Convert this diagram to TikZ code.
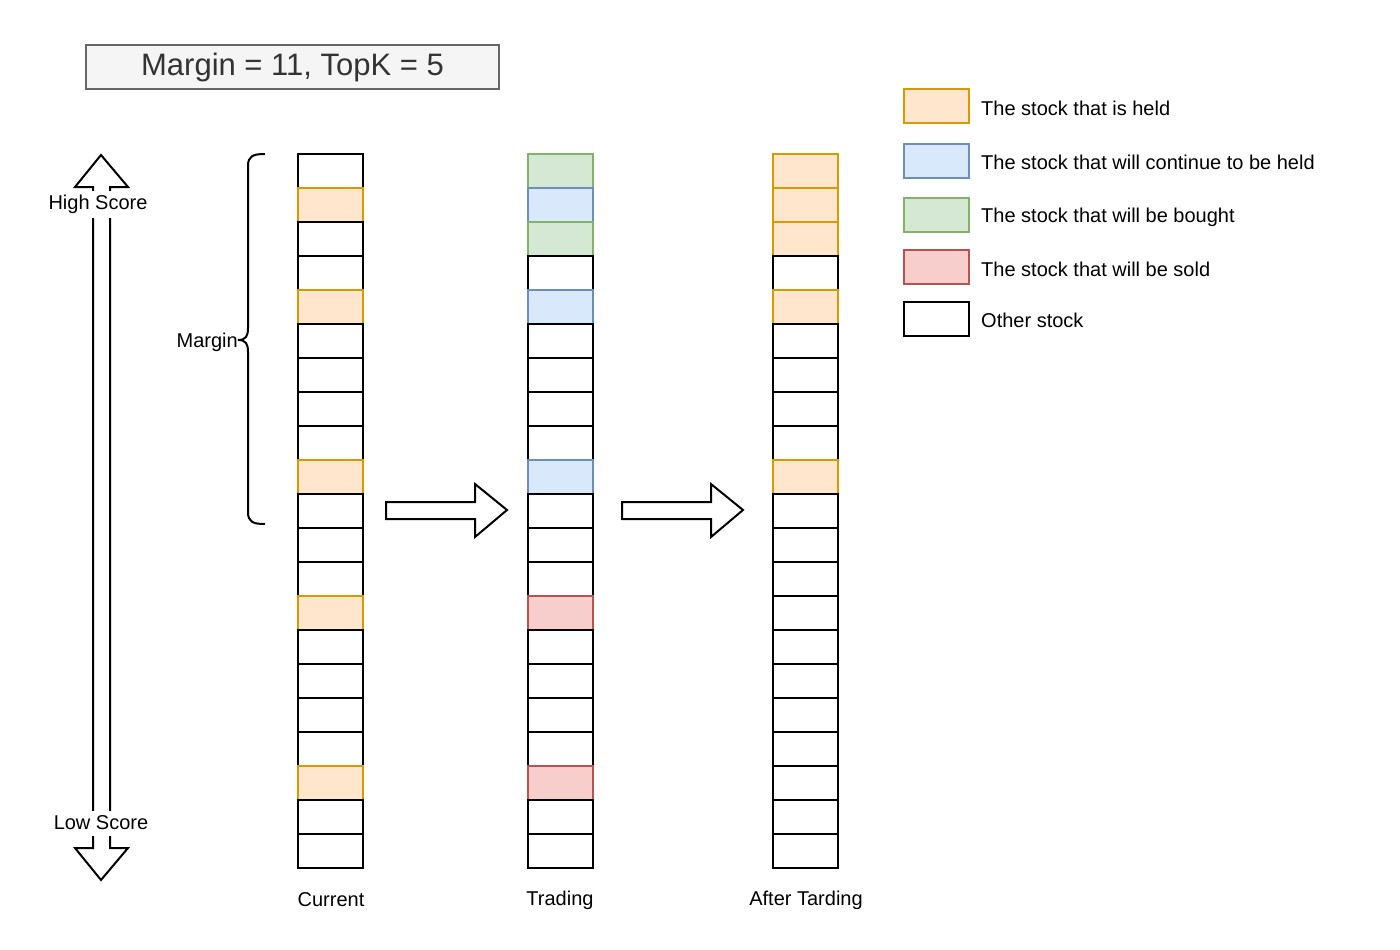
\documentclass[tikz,border=0pt]{standalone}
\usepackage{fontspec}
\setmainfont{Liberation Sans}
\definecolor{hfill}{HTML}{FFE6CC}\definecolor{hdraw}{HTML}{D79B00}
\definecolor{cfill}{HTML}{DAE8FC}\definecolor{cdraw}{HTML}{6C8EBF}
\definecolor{bfill}{HTML}{D5E8D4}\definecolor{bdraw}{HTML}{82B366}
\definecolor{sfill}{HTML}{F8CECC}\definecolor{sdraw}{HTML}{B85450}
\definecolor{tfill}{HTML}{F5F5F5}\definecolor{tdraw}{HTML}{666666}
\definecolor{ttext}{HTML}{333333}
\tikzset{
  cellbase/.style={rectangle, minimum width=65pt, minimum height=34pt, inner sep=0pt, line width=2pt},
  stw/.style={cellbase, draw=black, fill=white},
  sth/.style={cellbase, draw=hdraw, fill=hfill},
  stc/.style={cellbase, draw=cdraw, fill=cfill},
  stb/.style={cellbase, draw=bdraw, fill=bfill},
  sts/.style={cellbase, draw=sdraw, fill=sfill},
  lbl/.style={font=\fontsize{20}{24}\selectfont, inner sep=0pt},
  blockarrow/.style={draw=black, fill=white, line width=2pt, line join=miter},
}
\begin{document}
\begin{tikzpicture}[x=1pt,y=-1pt]
\useasboundingbox (0,0) rectangle (1400,950);
% title
\node[draw=tdraw, fill=tfill, line width=2pt, minimum width=413pt, minimum height=44pt, inner sep=0pt,
  text=ttext, font=\fontsize{31}{36}\selectfont] (title) at (292.5,67) {\raisebox{-2pt}{Margin = 11, TopK = 5}};
% score arrow
\draw[blockarrow] (101,155) -- (128,187) -- (110,187) -- (110,848) -- (128,848) -- (101,880)
  -- (75,848) -- (93,848) -- (93,187) -- (75,187) -- cycle;
\node[lbl, fill=white, inner xsep=1pt, inner ysep=0pt, minimum height=27pt] (high) at (98,204) {\raisebox{-1.5pt}{High Score}};
\node[lbl, fill=white, inner xsep=1pt, inner ysep=0pt, minimum height=25pt] (low) at (101,823) {\raisebox{-0.5pt}{Low Score}};
% columns
\foreach \s [count=\r from 0] in {stw,sth,stw,stw,sth,stw,stw,stw,stw,sth,stw,stw,stw,sth,stw,stw,stw,stw,sth,stw,stw}
  \node[\s] (cur-\r) at (330.5,171+34*\r) {};
\foreach \s [count=\r from 0] in {stb,stc,stb,stw,stc,stw,stw,stw,stw,stc,stw,stw,stw,sts,stw,stw,stw,stw,sts,stw,stw}
  \node[\s] (tra-\r) at (560.5,171+34*\r) {};
\foreach \s [count=\r from 0] in {sth,sth,sth,stw,sth,stw,stw,stw,stw,sth,stw,stw,stw,stw,stw,stw,stw,stw,stw,stw,stw}
  \node[\s] (aft-\r) at (805.5,171+34*\r) {};
\node[lbl] (curl) at (331,900) {Current};
\node[lbl] (tral) at (560,900) {Trading};
\node[lbl] (aftl) at (806,900) {After Tarding};
% brace
\draw[line width=2pt] (265,154) .. controls (253,154) and (248,156) .. (248,166) -- (248,328)
  .. controls (248,336) and (246,340) .. (238,340) .. controls (246,340) and (248,344) .. (248,352)
  -- (248,512) .. controls (248,522) and (253,524) .. (265,524);
\node[lbl, anchor=east] (marg) at (238,342) {Margin};
% block arrows
\draw[blockarrow] (386,502) -- (475,502) -- (475,484) -- (507,510) -- (475,537) -- (475,519) -- (386,519) -- cycle;
\draw[blockarrow] (622,502) -- (711,502) -- (711,484) -- (743,510) -- (711,537) -- (711,519) -- (622,519) -- cycle;
% legend
\node[sth] (leg-h) at (936,106) {};
\node[stc] (leg-c) at (936,161) {};
\node[stb] (leg-b) at (936,215) {};
\node[sts] (leg-s) at (936,267) {};
\node[stw] (leg-o) at (936,319) {};
\node[lbl, anchor=west] (legt-h) at (981,108) {The stock that is held};
\node[lbl, anchor=west] (legt-c) at (981,162) {The stock that will continue to be held};
\node[lbl, anchor=west] (legt-b) at (981,217) {The stock that will be bought};
\node[lbl, anchor=west] (legt-s) at (981,269) {The stock that will be sold};
\node[lbl, anchor=west] (legt-o) at (981,320) {Other stock};
\end{tikzpicture}
\end{document}
